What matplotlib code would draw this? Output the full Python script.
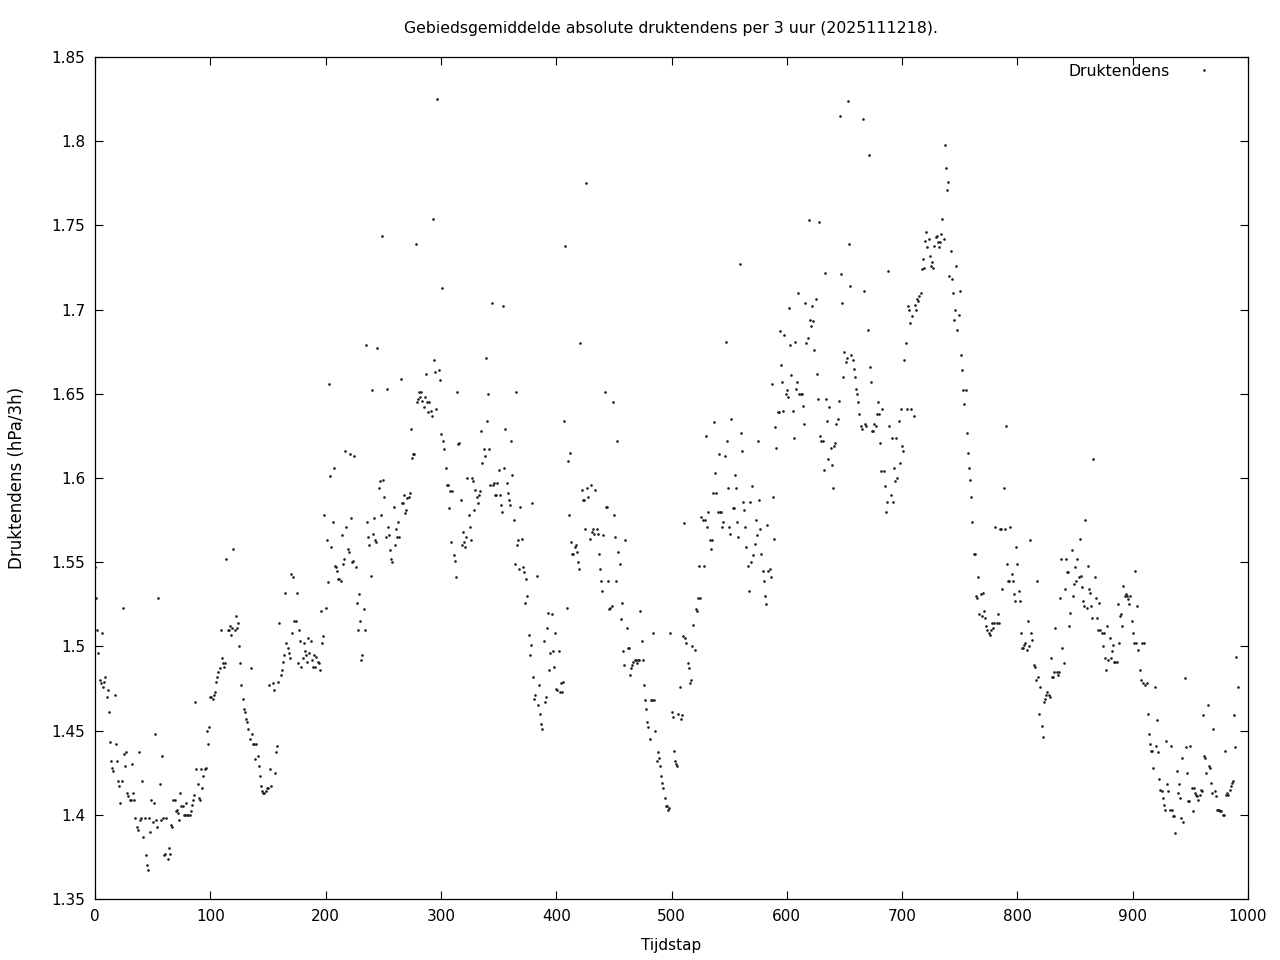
import numpy as np
import matplotlib
matplotlib.use("Agg")
import matplotlib.pyplot as plt

# druktendens per tijdstap (hPa/3h)
druk = [
    1.547,1.529,1.510,1.496,1.480,1.478,1.508,1.476,1.479,1.482,
    1.470,1.474,1.461,1.443,1.432,1.428,1.426,1.471,1.442,1.432,
    1.420,1.417,1.407,1.420,1.523,1.436,1.429,1.437,1.413,1.411,
    1.409,1.409,1.430,1.413,1.409,1.398,1.393,1.391,1.437,1.397,
    1.398,1.420,1.387,1.398,1.376,1.370,1.367,1.398,1.390,1.409,
    1.396,1.407,1.448,1.397,1.393,1.529,1.418,1.397,1.435,1.398,
    1.376,1.377,1.398,1.374,1.380,1.377,1.394,1.393,1.409,1.409,
    1.402,1.403,1.401,1.397,1.413,1.405,1.405,1.400,1.400,1.407,
    1.400,1.400,1.400,1.402,1.406,1.409,1.412,1.467,1.427,1.418,
    1.410,1.409,1.427,1.416,1.423,1.427,1.428,1.450,1.442,1.452,
    1.470,1.470,1.469,1.471,1.473,1.479,1.482,1.485,1.487,1.510,
    1.493,1.490,1.488,1.490,1.552,1.510,1.510,1.512,1.507,1.511,
    1.558,1.510,1.518,1.511,1.514,1.500,1.490,1.477,1.469,1.463,
    1.461,1.457,1.455,1.451,1.445,1.487,1.448,1.442,1.442,1.433,
    1.442,1.435,1.429,1.423,1.417,1.414,1.413,1.413,1.414,1.416,
    1.416,1.477,1.427,1.417,1.478,1.474,1.425,1.437,1.441,1.479,
    1.514,1.483,1.486,1.491,1.495,1.532,1.502,1.499,1.496,1.493,
    1.543,1.508,1.541,1.515,1.515,1.532,1.490,1.510,1.503,1.488,
    1.493,1.502,1.497,1.495,1.491,1.505,1.496,1.503,1.492,1.488,
    1.495,1.488,1.494,1.491,1.490,1.486,1.521,1.502,1.506,1.578,
    1.523,1.563,1.538,1.656,1.601,1.559,1.574,1.606,1.548,1.547,
    1.545,1.540,1.540,1.539,1.566,1.549,1.552,1.616,1.571,1.558,
    1.556,1.614,1.576,1.550,1.551,1.613,1.547,1.526,1.510,1.531,
    1.515,1.492,1.495,1.522,1.510,1.679,1.574,1.565,1.560,1.542,
    1.652,1.567,1.576,1.563,1.562,1.677,1.594,1.598,1.578,1.744,
    1.599,1.589,1.565,1.653,1.571,1.566,1.557,1.552,1.550,1.583,
    1.560,1.570,1.565,1.574,1.565,1.659,1.585,1.585,1.590,1.579,
    1.581,1.588,1.589,1.591,1.629,1.612,1.614,1.614,1.739,1.645,
    1.647,1.651,1.648,1.651,1.646,1.642,1.648,1.662,1.645,1.639,
    1.645,1.640,1.637,1.754,1.670,1.663,1.641,1.825,1.664,1.658,
    1.626,1.713,1.622,1.617,1.606,1.596,1.596,1.582,1.592,1.562,
    1.592,1.554,1.551,1.541,1.651,1.620,1.621,1.587,1.560,1.568,
    1.562,1.559,1.565,1.600,1.578,1.571,1.563,1.600,1.598,1.581,
    1.593,1.589,1.585,1.590,1.592,1.628,1.609,1.617,1.613,1.671,
    1.634,1.650,1.617,1.596,1.704,1.596,1.597,1.590,1.590,1.597,
    1.605,1.590,1.584,1.580,1.702,1.606,1.629,1.597,1.591,1.587,
    1.584,1.622,1.602,1.575,1.549,1.651,1.560,1.563,1.546,1.583,
    1.564,1.547,1.544,1.526,1.540,1.530,1.507,1.495,1.501,1.585,
    1.482,1.469,1.471,1.542,1.465,1.477,1.460,1.454,1.451,1.503,
    1.467,1.470,1.511,1.520,1.486,1.496,1.519,1.497,1.488,1.508,
    1.475,1.474,1.497,1.473,1.478,1.473,1.479,1.634,1.738,1.523,
    1.610,1.578,1.615,1.562,1.555,1.555,1.559,1.560,1.556,1.550,
    1.546,1.680,1.593,1.587,1.587,1.570,1.775,1.594,1.589,1.564,
    1.596,1.568,1.570,1.567,1.593,1.570,1.567,1.555,1.546,1.539,
    1.533,1.566,1.651,1.583,1.583,1.539,1.522,1.523,1.524,1.645,
    1.578,1.565,1.539,1.622,1.556,1.549,1.516,1.526,1.497,1.489,
    1.563,1.511,1.499,1.499,1.483,1.487,1.489,1.491,1.492,1.492,
    1.490,1.492,1.492,1.521,1.503,1.492,1.477,1.468,1.463,1.455,
    1.452,1.445,1.468,1.468,1.508,1.468,1.450,1.432,1.437,1.434,
    1.429,1.423,1.419,1.416,1.410,1.405,1.405,1.403,1.404,1.508,
    1.461,1.458,1.438,1.432,1.430,1.429,1.460,1.476,1.457,1.459,
    1.506,1.573,1.505,1.502,1.490,1.487,1.478,1.480,1.500,1.513,
    1.498,1.522,1.521,1.529,1.548,1.529,1.577,1.575,1.548,1.575,
    1.625,1.571,1.580,1.563,1.558,1.563,1.591,1.633,1.603,1.591,
    1.580,1.614,1.580,1.580,1.571,1.574,1.613,1.681,1.622,1.594,
    1.571,1.567,1.635,1.582,1.582,1.602,1.594,1.574,1.565,1.727,
    1.627,1.616,1.586,1.581,1.571,1.559,1.548,1.533,1.586,1.550,
    1.595,1.554,1.561,1.575,1.566,1.622,1.587,1.570,1.555,1.545,
    1.539,1.530,1.525,1.572,1.545,1.546,1.541,1.656,1.589,1.564,
    1.630,1.618,1.639,1.639,1.687,1.667,1.657,1.640,1.685,1.650,
    1.652,1.648,1.701,1.679,1.661,1.640,1.624,1.681,1.653,1.657,
    1.710,1.650,1.650,1.650,1.643,1.632,1.704,1.680,1.683,1.753,
    1.694,1.690,1.702,1.693,1.676,1.706,1.662,1.647,1.752,1.625,
    1.622,1.622,1.605,1.722,1.647,1.634,1.611,1.642,1.618,1.608,
    1.594,1.619,1.621,1.632,1.635,1.646,1.815,1.721,1.704,1.660,
    1.675,1.669,1.671,1.824,1.739,1.714,1.673,1.670,1.665,1.660,
    1.653,1.650,1.645,1.638,1.631,1.629,1.813,1.711,1.632,1.631,
    1.688,1.792,1.666,1.657,1.628,1.628,1.632,1.631,1.638,1.645,
    1.638,1.621,1.604,1.641,1.604,1.595,1.580,1.586,1.723,1.631,
    1.590,1.624,1.586,1.606,1.598,1.624,1.600,1.634,1.609,1.641,
    1.619,1.616,1.670,1.680,1.641,1.702,1.700,1.692,1.641,1.696,
    1.637,1.703,1.700,1.706,1.705,1.708,1.710,1.724,1.730,1.725,
    1.741,1.746,1.737,1.742,1.732,1.726,1.728,1.725,1.738,1.743,
    1.744,1.740,1.737,1.740,1.745,1.754,1.742,1.798,1.784,1.771,
    1.776,1.720,1.735,1.718,1.710,1.694,1.700,1.726,1.688,1.697,
    1.711,1.673,1.664,1.652,1.644,1.652,1.627,1.615,1.606,1.599,
    1.589,1.574,1.555,1.555,1.530,1.529,1.541,1.519,1.531,1.518,
    1.532,1.521,1.517,1.512,1.510,1.508,1.507,1.510,1.514,1.511,
    1.514,1.571,1.514,1.519,1.514,1.570,1.570,1.534,1.594,1.570,
    1.631,1.549,1.539,1.539,1.571,1.543,1.539,1.531,1.527,1.559,
    1.549,1.533,1.527,1.508,1.499,1.499,1.501,1.502,1.498,1.515,
    1.500,1.563,1.508,1.504,1.489,1.488,1.480,1.539,1.482,1.460,
    1.476,1.453,1.446,1.467,1.469,1.471,1.473,1.471,1.470,1.493,
    1.482,1.482,1.485,1.511,1.485,1.483,1.485,1.529,1.552,1.499,
    1.490,1.534,1.552,1.544,1.544,1.512,1.520,1.557,1.530,1.537,
    1.547,1.539,1.552,1.541,1.564,1.542,1.535,1.527,1.524,1.575,
    1.523,1.548,1.534,1.532,1.524,1.517,1.611,1.541,1.529,1.517,
    1.510,1.526,1.510,1.508,1.500,1.508,1.493,1.486,1.512,1.492,
    1.505,1.493,1.497,1.501,1.491,1.491,1.491,1.525,1.502,1.518,
    1.519,1.512,1.536,1.530,1.531,1.530,1.528,1.525,1.530,1.515,
    1.508,1.502,1.545,1.502,1.524,1.498,1.486,1.480,1.502,1.478,
    1.502,1.477,1.478,1.460,1.448,1.442,1.438,1.438,1.428,1.476,
    1.441,1.456,1.437,1.421,1.415,1.414,1.410,1.406,1.403,1.444,
    1.418,1.414,1.403,1.441,1.403,1.399,1.399,1.389,1.426,1.413,
    1.418,1.410,1.398,1.434,1.396,1.481,1.440,1.425,1.408,1.408,
    1.441,1.416,1.402,1.416,1.413,1.412,1.411,1.409,1.412,1.415,
    1.414,1.459,1.435,1.434,1.425,1.465,1.429,1.428,1.419,1.413,
    1.451,1.414,1.411,1.403,1.403,1.403,1.402,1.402,1.400,1.400,
    1.438,1.412,1.413,1.412,1.415,1.417,1.419,1.420,1.459,1.440,
    1.494,1.476,
]
tijdstap = np.arange(len(druk))

xticks = [0, 100, 200, 300, 400, 500, 600, 700, 800, 900, 1000]
yticks = [1.35, 1.4, 1.45, 1.5, 1.55, 1.6, 1.65, 1.7, 1.75, 1.8, 1.85]
ylabels = ["1.35", "1.4", "1.45", "1.5", "1.55", "1.6", "1.65", "1.7", "1.75", "1.8", "1.85"]

fig = plt.figure(figsize=(12.8, 9.6), dpi=100)
ax = fig.add_axes([95/1280, 61/960, 1153/1280, 842/960])

ax.plot(tijdstap, druk, linestyle="none", marker="o", markersize=1.9,
        markeredgewidth=0, color="#1e1e1e", label="Druktendens")

ax.set_xlim(0, 1000)
ax.set_ylim(1.35, 1.85)
ax.set_xticks(xticks)
ax.set_yticks(yticks)
ax.set_yticklabels(ylabels)
ax.tick_params(direction="in", length=6, width=0.8, top=True, right=True,
               labelsize=11, pad=7)
for s in ax.spines.values():
    s.set_linewidth(0.9)

ax.set_xlabel("Tijdstap", fontsize=11, labelpad=10)
ax.set_ylabel("Druktendens (hPa/3h)", fontsize=12, labelpad=18)
ax.set_title("Gebiedsgemiddelde absolute druktendens per 3 uur (2025111218).",
             fontsize=11.3, pad=17)

ax.legend(loc="upper right", bbox_to_anchor=(0.984, 0.992), frameon=False,
          markerfirst=False, handlelength=3.2, handletextpad=0.6,
          borderpad=0, borderaxespad=0, fontsize=11.3, markerscale=1.0)

fig.savefig("out.png", dpi=100)
